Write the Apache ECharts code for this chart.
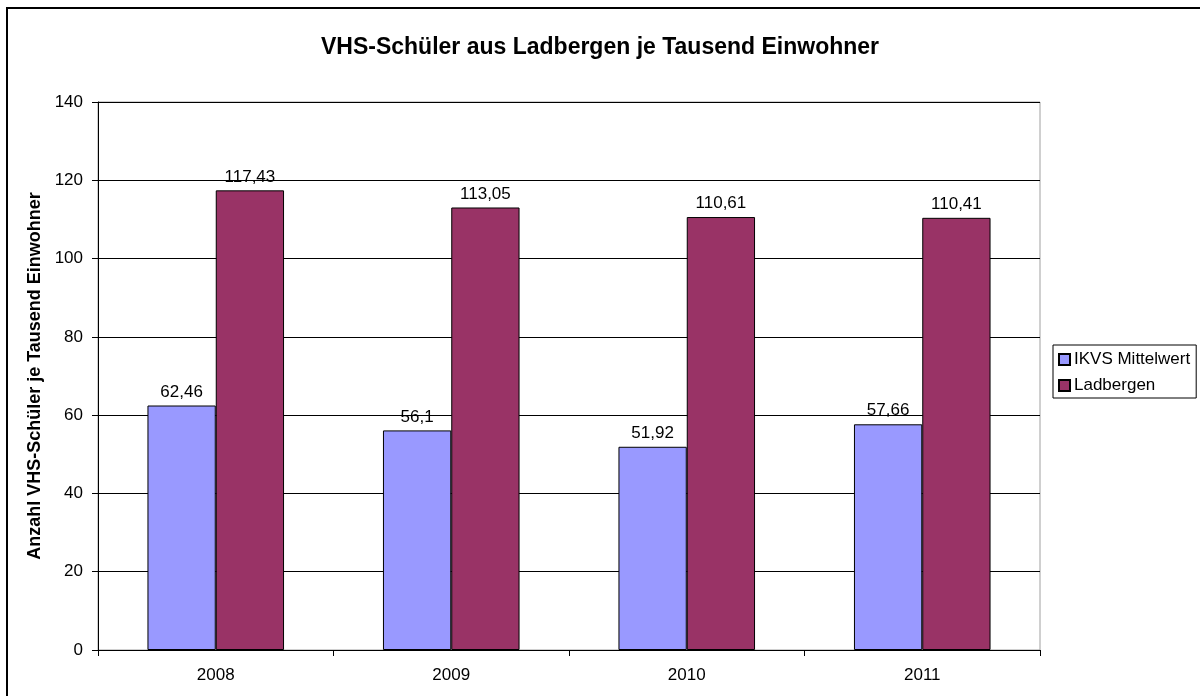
<!DOCTYPE html>
<html>
<head>
<meta charset="utf-8">
<script src="https://cdn.jsdelivr.net/npm/echarts@6/dist/echarts.min.js"></script>
<style>
  html, body { margin: 0; padding: 0; background: #fff; }
  #chart { width: 1200px; height: 696px; }
</style>
</head>
<body>
<div id="chart"></div>
<script>
// Daten
const years = ["2008", "2009", "2010", "2011"];
const ikvsMittelwert = [62.46, 56.1, 51.92, 57.66];
const ladbergen = [117.43, 113.05, 110.61, 110.41];

const chart = echarts.init(document.getElementById("chart"));

const fmt = (p) => String(p.value).replace(".", ",");

const option = {
  backgroundColor: "#fff",
  animation: false,
  textStyle: { fontFamily: "Liberation Sans, Arial, sans-serif" },
  graphic: [
    {
      type: "rect",
      shape: { x: 7, y: 8, width: 1200, height: 700 },
      style: { fill: "none", stroke: "#000", lineWidth: 2 },
    },
  ],
  title: {
    text: "VHS-Schüler aus Ladbergen je Tausend Einwohner",
    left: "center",
    top: 31,
    textStyle: { fontSize: 23, fontWeight: "bold", color: "#000" },
  },
  legend: {
    orient: "vertical",
    left: 1053,
    top: 345,
    padding: [6, 6, 4, 5],
    itemGap: 9,
    itemWidth: 11,
    itemHeight: 11,
    borderColor: "#000",
    borderWidth: 1,
    icon: "rect",
    textStyle: { fontSize: 17, color: "#000", padding: [0, 0, 0, -1] },
    data: ["IKVS Mittelwert", "Ladbergen"],
  },
  grid: {
    left: 98,
    right: 160,
    top: 102,
    bottom: 46,
    show: true,
    borderColor: "#a0a0a0",
    borderWidth: 1,
  },
  xAxis: {
    type: "category",
    data: years,
    axisLine: { lineStyle: { color: "#000" } },
    axisTick: { show: true, length: 6, lineStyle: { color: "#000" } },
    axisLabel: { fontSize: 17, color: "#000", margin: 17 },
  },
  yAxis: {
    type: "value",
    min: 0,
    max: 140,
    interval: 20,
    name: "Anzahl VHS-Schüler je Tausend Einwohner",
    nameLocation: "middle",
    nameGap: 54,
    nameTextStyle: { fontSize: 18, fontWeight: "bold", color: "#000" },
    axisLine: { show: true, lineStyle: { color: "#000" } },
    axisTick: { show: true, length: 6, lineStyle: { color: "#000" } },
    axisLabel: { fontSize: 17, color: "#000", margin: 15 },
    splitLine: { lineStyle: { color: "#000", width: 1 } },
  },
  series: [
    {
      name: "IKVS Mittelwert",
      type: "bar",
      data: ikvsMittelwert,
      barGap: "0%",
      barCategoryGap: "42%",
      itemStyle: { color: "#9999ff", borderColor: "#000", borderWidth: 1 },
      label: { show: true, position: "top", distance: 5, fontSize: 17, color: "#000", formatter: fmt },
    },
    {
      name: "Ladbergen",
      type: "bar",
      data: ladbergen,
      itemStyle: { color: "#993366", borderColor: "#000", borderWidth: 1 },
      label: { show: true, position: "top", distance: 5, fontSize: 17, color: "#000", formatter: fmt },
    },
  ],
};

chart.setOption(option);
</script>
</body>
</html>
